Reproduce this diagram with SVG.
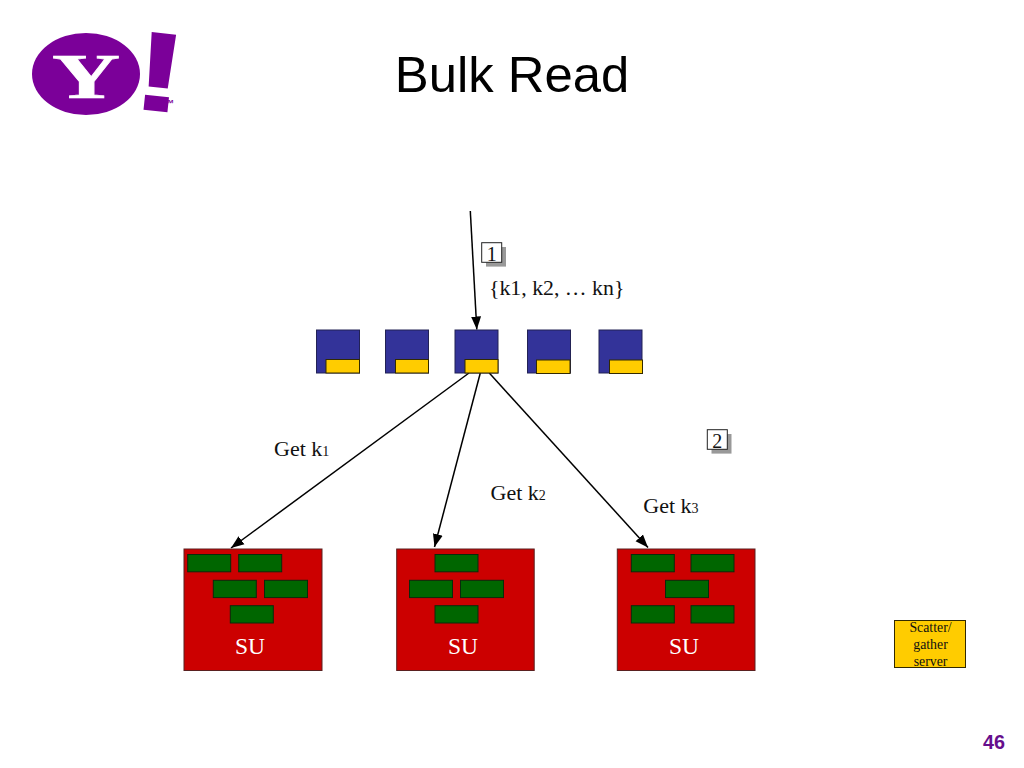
<svg xmlns="http://www.w3.org/2000/svg" width="1024" height="768" viewBox="0 0 1024 768">
<style>
.ser{font-family:"Liberation Serif","Times New Roman",serif;fill:#111}
.san{font-family:"Liberation Sans",Arial,sans-serif}
.blue{fill:#333399;stroke:#222255;stroke-width:1}
.yel{fill:#ffcc00;stroke:#332a00;stroke-width:1}
.red{fill:#cc0000;stroke:#5a2020;stroke-width:1}
.grn{fill:#006600;stroke:#0a2a0a;stroke-width:1}
.lbl{font-size:22px}
.sub{font-size:14px}
.su{font-size:23.5px;fill:#fff;text-anchor:middle}
.num{font-size:20px;text-anchor:middle}
.tag{fill:#fff;stroke:#222;stroke-width:1}
.shd{fill:#999}
.sg{font-size:13.8px;text-anchor:middle}
.c{fill:none;stroke:#000;stroke-width:1.5;marker-end:url(#ah)}
</style>
<defs>
<marker id="ah" markerUnits="userSpaceOnUse" markerWidth="14" markerHeight="12" refX="13" refY="6" orient="auto">
<path d="M0 1L13 6L0 11Z" fill="#000"/>
</marker>
</defs>
<rect width="1024" height="768" fill="#fff"/>
<g id="logo">
<ellipse cx="86" cy="74" rx="54" ry="41" fill="#7b0099"/>
<text transform="translate(86 97.5) scale(1.45 .97)" text-anchor="middle" font-family="Liberation Serif,serif" font-weight="bold" font-size="65" fill="#fff" stroke="#fff" stroke-width=".7">Y</text>
<text transform="translate(127.5 108) rotate(6) scale(1.9 1.26)" font-family="Liberation Sans,sans-serif" font-weight="bold" font-size="90" fill="#7b0099">!</text>
<text x="164" y="107.3" font-family="Liberation Sans,sans-serif" font-weight="bold" font-size="10" fill="#7b0099">™</text>
</g>
<text id="title" class="san" x="512" y="91.5" font-size="50.8" text-anchor="middle" fill="#000">Bulk Read</text>
<g id="connectors">
<line class="c" x1="470.3" y1="211" x2="476.8" y2="329.5"/>
<line class="c" x1="469" y1="373" x2="231" y2="548"/>
<line class="c" x1="480.3" y1="373" x2="434.5" y2="547"/>
<line class="c" x1="489.3" y1="373" x2="648" y2="547.5"/>
</g>
<g id="tag1"><rect class="shd" x="486" y="247" width="20" height="19.6"/><rect class="tag" x="481.7" y="242.7" width="20" height="19.6"/><text class="ser num" x="491.7" y="261">1</text></g>
<text id="keys" class="ser" font-size="21.8" x="489" y="295">{k1, k2, … kn}</text>
<g id="router1"><rect class="blue" x="316.5" y="330" width="43" height="43"/><rect class="yel" x="326" y="359.5" width="33.5" height="13.5"/></g>
<g id="router2"><rect class="blue" x="385.5" y="330" width="43" height="43"/><rect class="yel" x="395.5" y="359.5" width="33" height="13.5"/></g>
<g id="router3"><rect class="blue" x="455" y="330" width="43" height="43"/><rect class="yel" x="465" y="359.5" width="33" height="13.5"/></g>
<g id="router4"><rect class="blue" x="527.5" y="330" width="43" height="43"/><rect class="yel" x="536.5" y="360" width="33.5" height="13.5"/></g>
<g id="router5"><rect class="blue" x="599" y="330" width="43" height="43"/><rect class="yel" x="609.5" y="360" width="33" height="13.5"/></g>
<text id="get1" class="ser lbl" x="274" y="456">Get k<tspan class="sub">1</tspan></text>
<text id="get2" class="ser lbl" x="490.5" y="500">Get k<tspan class="sub">2</tspan></text>
<text id="get3" class="ser lbl" x="643.3" y="513">Get k<tspan class="sub">3</tspan></text>
<g id="tag2"><rect class="shd" x="711.5" y="434" width="20" height="19.6"/><rect class="tag" x="707.3" y="429.7" width="20" height="19.6"/><text class="ser num" x="717.3" y="448">2</text></g>
<g id="su1">
<rect class="red" x="184" y="549" width="138" height="121.5"/>
<rect class="grn" x="187.7" y="554.5" width="43" height="17.3"/><rect class="grn" x="238.7" y="554.5" width="43" height="17.3"/>
<rect class="grn" x="213.3" y="580.3" width="43" height="17.3"/><rect class="grn" x="264.5" y="580.3" width="43" height="17.3"/>
<rect class="grn" x="230.3" y="605.7" width="43" height="17.3"/>
<text class="ser su" x="250" y="654.3">SU</text>
</g>
<g id="su2">
<rect class="red" x="396.7" y="549" width="137.5" height="121.5"/>
<rect class="grn" x="435" y="554.5" width="43" height="17.3"/>
<rect class="grn" x="409.5" y="580.3" width="43" height="17.3"/><rect class="grn" x="460.5" y="580.3" width="43" height="17.3"/>
<rect class="grn" x="435" y="605.7" width="43" height="17.3"/>
<text class="ser su" x="463" y="654.3">SU</text>
</g>
<g id="su3">
<rect class="red" x="617.3" y="549" width="137.7" height="121.5"/>
<rect class="grn" x="631.3" y="554.5" width="43" height="17.3"/><rect class="grn" x="691" y="554.5" width="43" height="17.3"/>
<rect class="grn" x="665.5" y="580.3" width="43" height="17.3"/>
<rect class="grn" x="631.3" y="605.7" width="43" height="17.3"/><rect class="grn" x="691" y="605.7" width="43" height="17.3"/>
<text class="ser su" x="684" y="654.3">SU</text>
</g>
<g id="legend">
<rect class="yel" x="894.5" y="620.5" width="71" height="47"/>
<text class="ser sg" x="930.5" y="632">Scatter/</text>
<text class="ser sg" x="930.5" y="649">gather</text>
<text class="ser sg" x="930.5" y="666">server</text>
</g>
<text id="page" class="san" x="1005" y="749" font-size="19.8" font-weight="bold" text-anchor="end" fill="#660e8c">46</text>
</svg>
